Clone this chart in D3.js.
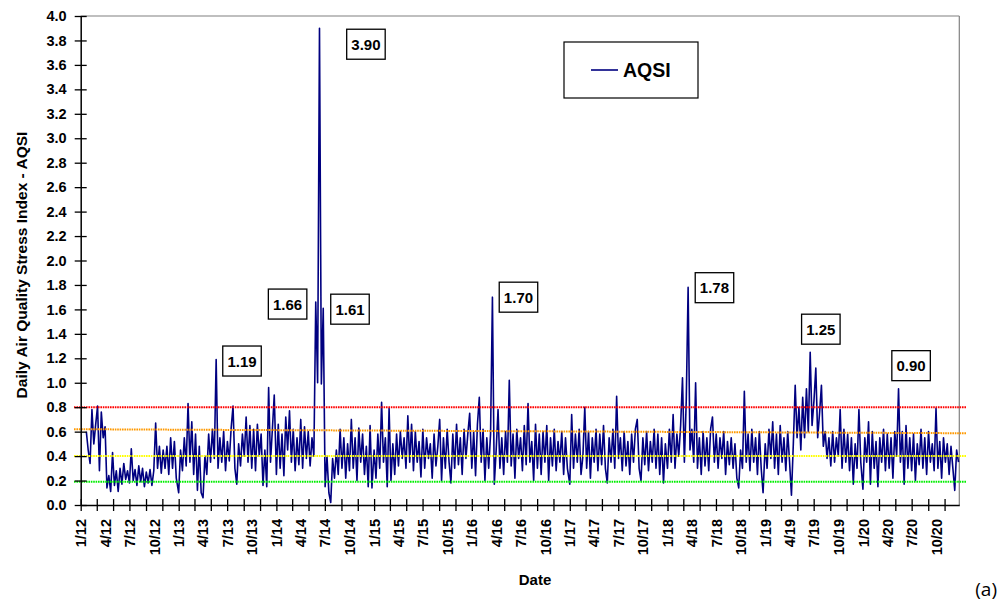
<!DOCTYPE html>
<html>
<head>
<meta charset="utf-8">
<script src="https://cdn.jsdelivr.net/npm/d3@7"></script>
<style>
  html, body { margin: 0; padding: 0; background: #fff; }
  svg { display: block; font-family: "Liberation Sans", Arial, sans-serif; }
</style>
</head>
<body>
<svg id="chart" width="998" height="603"></svg>
<script>
// ---------------- DATA (weekly readings, week i = Jan 1 + 7*i) ----------------
const y2012 = [null,null,null,0.60,0.45,0.34,0.78,0.50,0.66,0.81,0.28,0.76,0.55,0.64,0.14,0.24,0.11,0.43,0.16,0.28,0.11,0.30,0.17,0.34,0.21,0.28,0.18,0.46,0.20,0.29,0.16,0.32,0.19,0.30,0.15,0.27,0.18,0.29,0.16,0.28,0.67,0.30,0.48,0.26,0.45,0.30,0.48,0.25,0.55,0.30,0.52,0.22];
const y2013 = [0.10,0.45,0.28,0.55,0.32,0.83,0.35,0.68,0.25,0.58,0.12,0.48,0.10,0.06,0.40,0.25,0.58,0.35,0.62,0.38,1.19,0.30,0.55,0.35,0.60,0.28,0.52,0.36,0.63,0.81,0.30,0.17,0.50,0.32,0.58,0.40,0.72,0.35,0.65,0.30,0.62,0.28,0.66,0.40,0.58,0.16,0.45,0.15,0.96,0.35,0.62,0.90];
const y2014 = [0.25,0.66,0.30,0.58,0.24,0.72,0.45,0.77,0.35,0.62,0.28,0.55,0.33,0.70,0.30,0.64,0.38,0.60,0.32,0.55,0.40,1.66,1.00,3.90,0.99,1.61,0.15,0.40,0.10,0.02,0.38,0.22,0.45,0.25,0.62,0.30,0.55,0.22,0.50,0.28,0.70,0.30,0.55,0.20,0.63,0.35,0.58,0.25,0.48,0.15,0.65,0.14];
const y2015 = [0.45,0.22,0.58,0.30,0.84,0.35,0.55,0.15,0.79,0.20,0.50,0.25,0.58,0.32,0.60,0.38,0.55,0.30,0.73,0.35,0.66,0.28,0.60,0.35,0.52,0.23,0.62,0.30,0.55,0.38,0.50,0.22,0.58,0.32,0.48,0.70,0.20,0.55,0.30,0.62,0.35,0.18,0.58,0.30,0.66,0.33,0.55,0.25,0.62,0.38,0.58,0.75];
const y2016 = [0.30,0.60,0.24,0.66,0.88,0.35,0.62,0.20,0.55,0.30,0.58,1.70,0.17,0.45,0.78,0.30,0.55,0.25,0.60,0.35,1.02,0.32,0.58,0.22,0.62,0.38,0.55,0.28,0.65,0.33,0.83,0.35,0.52,0.20,0.66,0.30,0.58,0.25,0.60,0.35,0.65,0.20,0.55,0.32,0.62,0.28,0.52,0.35,0.60,0.25,0.55,0.30];
const y2017 = [0.17,0.74,0.30,0.58,0.35,0.62,0.25,0.40,0.80,0.30,0.60,0.22,0.55,0.35,0.62,0.28,0.58,0.33,0.65,0.30,0.18,0.55,0.35,0.62,0.30,0.89,0.38,0.55,0.28,0.60,0.32,0.52,0.25,0.58,0.35,0.62,0.70,0.30,0.20,0.55,0.33,0.60,0.28,0.52,0.35,0.62,0.30,0.58,0.25,0.55,0.18,0.50];
const y2018 = [0.30,0.62,0.35,0.74,0.30,0.58,0.40,0.65,1.04,0.35,0.85,1.78,0.45,0.62,0.35,1.00,0.30,0.55,0.25,0.60,0.32,0.55,0.28,0.62,0.72,0.35,0.58,0.30,0.55,0.38,0.60,0.25,0.52,0.33,0.55,0.30,0.50,0.22,0.14,0.45,0.30,0.93,0.35,0.58,0.28,0.62,0.35,0.55,0.25,0.60,0.30,0.10];
const y2019 = [0.50,0.30,0.62,0.38,0.68,0.30,0.58,0.25,0.65,0.35,0.55,0.28,0.60,0.35,0.08,0.50,0.98,0.55,0.80,0.45,0.88,0.55,0.95,0.60,1.25,0.65,0.85,1.12,0.55,0.75,0.98,0.48,0.60,0.38,0.55,0.32,0.60,0.35,0.55,0.40,0.78,0.30,0.62,0.35,0.58,0.28,0.55,0.17,0.50,0.30,0.78,0.35];
const y2020 = [0.13,0.55,0.35,0.68,0.17,0.60,0.30,0.52,0.15,0.55,0.35,0.62,0.28,0.58,0.30,0.55,0.22,0.60,0.40,0.95,0.35,0.60,0.17,0.65,0.30,0.55,0.28,0.58,0.20,0.50,0.33,0.62,0.30,0.55,0.25,0.60,0.35,0.50,0.28,0.79,0.30,0.52,0.22,0.55,0.35,0.50,0.25,0.48,0.30,0.12,0.45,0.35];
const years = [2012,2013,2014,2015,2016,2017,2018,2019,2020];
const seriesByYear = [y2012,y2013,y2014,y2015,y2016,y2017,y2018,y2019,y2020];

// Axis tick labels
const xTickLabels = ["1/12","4/12","7/12","10/12","1/13","4/13","7/13","10/13","1/14","4/14","7/14","10/14",
  "1/15","4/15","7/15","10/15","1/16","4/16","7/16","10/16","1/17","4/17","7/17","10/17",
  "1/18","4/18","7/18","10/18","1/19","4/19","7/19","10/19","1/20","4/20","7/20","10/20"];
const yTickValues = [0.0,0.2,0.4,0.6,0.8,1.0,1.2,1.4,1.6,1.8,2.0,2.2,2.4,2.6,2.8,3.0,3.2,3.4,3.6,3.8,4.0];

// Reference levels (start value, end value)
const levelNames  = ["red","orange","yellow","green"];
const levelStart  = [0.80, 0.62, 0.40, 0.19];
const levelEnd    = [0.80, 0.587, 0.40, 0.19];

// Annotated peaks
const annotLabels = ["1.19","1.66","3.90","1.61","1.70","1.78","1.25","0.90"];
const annotDates  = ["2013-05-21","2014-05-28","2014-06-11","2014-06-25","2016-03-18","2018-03-19","2019-06-18","2020-05-13"];

const legendLabel = "AQSI";

// ---------------- BUILD ----------------
const data = [];
years.forEach((yr, k) => {
  seriesByYear[k].forEach((v, i) => {
    data.push({ date: new Date(yr, 0, 1 + 7 * i), v: v });
  });
});

const svg = d3.select("#chart");
const L = 80.7, R = 959.3, T = 16, B = 505;

const x = d3.scaleTime()
  .domain([new Date(2012, 0, 1), new Date(2020, 11, 26)])
  .range([L, R]);
const y = d3.scaleLinear().domain([0, 4]).range([B, T]);

const colors = { red: "#ff0000", orange: "#ff9900", yellow: "#ffff00", green: "#00ee00" };
const navy = "#000080";

// plot frame (top/right in grey)
svg.append("line").attr("x1", L).attr("x2", R).attr("y1", T).attr("y2", T)
  .attr("stroke", "#808080").attr("stroke-width", 1.2);
svg.append("line").attr("x1", R).attr("x2", R).attr("y1", T).attr("y2", B)
  .attr("stroke", "#808080").attr("stroke-width", 1.2);

// data line
const line = d3.line()
  .defined(d => d.v != null)
  .x(d => x(d.date))
  .y(d => y(d.v));

svg.append("path")
  .datum(data)
  .attr("fill", "none")
  .attr("stroke", navy)
  .attr("stroke-width", 1.6)
  .attr("stroke-linejoin", "round")
  .attr("d", line);

// reference lines (dotted, drawn over data)
levelNames.forEach((n, i) => {
  svg.append("line")
    .attr("x1", L - 6.7).attr("x2", R + 6.7)
    .attr("y1", y(levelStart[i])).attr("y2", y(levelEnd[i]))
    .attr("stroke", colors[n])
    .attr("stroke-width", 2)
    .attr("stroke-dasharray", "1.6,0.8");
});

// Y axis
const yAxis = d3.axisLeft(y)
  .tickValues(yTickValues)
  .tickFormat(d3.format(".1f"))
  .tickSize(0)
  .tickPadding(14);
const gy = svg.append("g").attr("transform", `translate(${L},0)`).call(yAxis);
gy.select(".domain").attr("stroke", "#000").attr("stroke-width", 1.5);
gy.selectAll(".tick").append("line")
  .attr("x1", -6).attr("x2", 6).attr("stroke", "#000").attr("stroke-width", 1.3);
gy.selectAll("text")
  .attr("fill", "#000")
  .style("font-size", "14.5px")
  .style("font-weight", "bold")
  .style("font-family", "'Liberation Sans', Arial, sans-serif");

// X axis: ticks every two months
const tickDates = d3.timeMonth.every(2).range(new Date(2012, 0, 1), new Date(2020, 11, 2));
const xAxisTicks = d3.axisBottom(x).tickValues(tickDates).tickSize(0).tickFormat("");
const gx = svg.append("g").attr("transform", `translate(0,${B})`).call(xAxisTicks);
gx.select(".domain").attr("stroke", "#000").attr("stroke-width", 1.5);
gx.selectAll(".tick").append("line")
  .attr("y1", -6).attr("y2", 6).attr("stroke", "#000").attr("stroke-width", 1.3);

// X labels every three months
const parseLbl = d3.timeParse("%m/%y");
const labelDates = xTickLabels.map(s => parseLbl(s));
const xAxisLabels = d3.axisBottom(x)
  .tickValues(labelDates)
  .tickSize(0)
  .tickFormat((d, i) => xTickLabels[i]);
const gxl = svg.append("g").attr("transform", `translate(0,${B})`).call(xAxisLabels);
gxl.select(".domain").remove();
gxl.selectAll("text")
  .attr("transform", "rotate(-90)")
  .attr("x", -14)
  .attr("y", 0)
  .attr("dy", "0.35em")
  .attr("fill", "#000")
  .style("text-anchor", "end")
  .style("font-size", "14.5px")
  .style("font-weight", "bold")
  .style("font-family", "'Liberation Sans', Arial, sans-serif");

// Axis titles
svg.append("text")
  .attr("transform", "translate(21,265) rotate(-90)")
  .attr("text-anchor", "middle")
  .attr("dominant-baseline", "central")
  .style("font-size", "15.5px").style("font-weight", "bold")
  .text("Daily Air Quality Stress Index - AQSI");

svg.append("text")
  .attr("x", 535).attr("y", 585)
  .attr("text-anchor", "middle")
  .style("font-size", "15px").style("font-weight", "bold")
  .text("Date");

svg.append("text")
  .attr("x", 997).attr("y", 596)
  .attr("text-anchor", "end")
  .style("font-family", "'Open Sans', 'Noto Sans', sans-serif")
  .style("font-size", "19px")
  .text("(a)");

// Legend
const lg = svg.append("g");
lg.append("rect").attr("x", 564).attr("y", 42).attr("width", 134).attr("height", 56)
  .attr("fill", "#fff").attr("stroke", "#000").attr("stroke-width", 1.2);
lg.append("line").attr("x1", 591).attr("x2", 618).attr("y1", 70).attr("y2", 70)
  .attr("stroke", navy).attr("stroke-width", 1.6);
lg.append("text").attr("x", 623).attr("y", 77)
  .style("font-size", "19.5px").style("font-weight", "bold")
  .text(legendLabel);

// Annotation boxes (offsets from the peak they describe)
const boxOffsets = [[6.6,-13.5],[-47.4,-13],[27.2,1],[7.5,-14],[6.8,-15],[7.1,-14.7],[-8.6,-38],[-6.7,-38.2]];
const parseISO = d3.timeParse("%Y-%m-%d");
annotLabels.forEach((lab, i) => {
  const dt = parseISO(annotDates[i]);
  const pt = data.find(d => d.date.getTime() === dt.getTime());
  const sx = x(pt.date), sy = y(pt.v);
  const bx = sx + boxOffsets[i][0], by = sy + boxOffsets[i][1];
  const g = svg.append("g").attr("transform", `translate(${bx},${by})`);
  g.append("rect").attr("width", 38.5).attr("height", 30)
    .attr("fill", "#fff").attr("stroke", "#000").attr("stroke-width", 1.3);
  g.append("text").attr("x", 19.25).attr("y", 20.5)
    .attr("text-anchor", "middle")
    .style("font-size", "15px").style("font-weight", "bold")
    .text(lab);
});
</script>
</body>
</html>
